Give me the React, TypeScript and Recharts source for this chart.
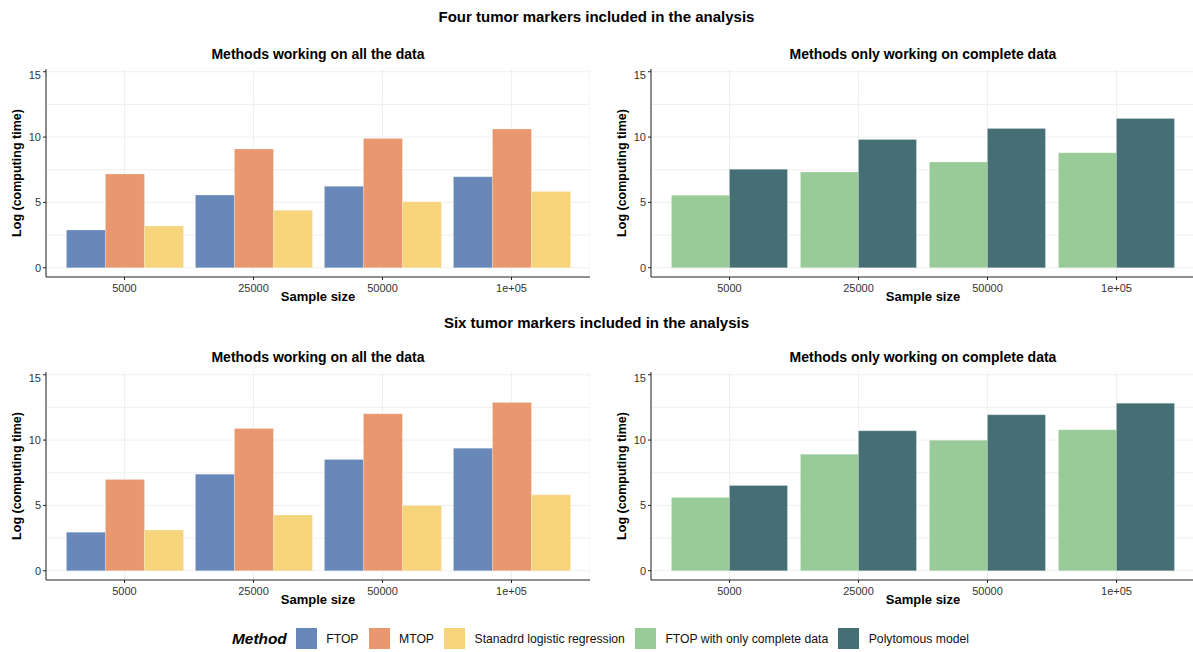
import { BarChart, Bar, XAxis, YAxis, CartesianGrid } from "recharts";

const sampleSizes = ["5000", "25000", "50000", "1e+05"];

// four tumor markers
const fourFtop = [2.88, 5.56, 6.23, 6.96];
const fourMtop = [7.17, 9.08, 9.9, 10.61];
const fourSlr = [3.19, 4.39, 5.05, 5.84];
const fourFtopComplete = [5.54, 7.32, 8.09, 8.8];
const fourPoly = [7.53, 9.82, 10.66, 11.43];

// six tumor markers
const sixFtop = [2.95, 7.39, 8.52, 9.38];
const sixMtop = [6.99, 10.89, 12.01, 12.88];
const sixSlr = [3.11, 4.26, 5.0, 5.81];
const sixFtopComplete = [5.61, 8.92, 9.99, 10.79];
const sixPoly = [6.53, 10.71, 11.94, 12.82];

const yTicks = [0, 5, 10, 15];
const gridValues = [0, 2.5, 5, 7.5, 10, 12.5, 15];

const METHODS = [
  { key: "ftop", name: "FTOP", color: "#6788b8" },
  { key: "mtop", name: "MTOP", color: "#e9976f" },
  { key: "slr", name: "Stanadrd logistic regression", color: "#f6d47b" },
  { key: "ftopc", name: "FTOP with only complete data", color: "#99cb99" },
  { key: "poly", name: "Polytomous model", color: "#466f75" },
];

const FONT = '"Liberation Sans", Arial, Helvetica, sans-serif';

const makeRows = (series: Record<string, number[]>) =>
  sampleSizes.map((s, i) => {
    const row: Record<string, string | number> = { size: s };
    Object.keys(series).forEach((k) => (row[k] = series[k][i]));
    return row;
  });

function Panel({
  rows,
  keys,
  left,
  top,
  title,
}: {
  rows: Record<string, string | number>[];
  keys: string[];
  left: number;
  top: number;
  title: string;
}) {
  const plotLeft = left + 46;
  const plotCenter = plotLeft + 272;
  return (
    <>
      <div
        style={{
          position: "absolute",
          left: plotCenter - 250,
          width: 500,
          top: top - 23,
          textAlign: "center",
          fontWeight: 700,
          fontSize: 14,
        }}
      >
        {title}
      </div>
      <div
        style={{
          position: "absolute",
          left: left + 17 - 100,
          top: top + 104 - 8,
          width: 200,
          height: 16,
          lineHeight: "16px",
          textAlign: "center",
          fontWeight: 700,
          fontSize: 12.5,
          transform: "rotate(-90deg)",
        }}
      >
        Log (computing time)
      </div>
      <div
        style={{
          position: "absolute",
          left: plotCenter - 100,
          width: 200,
          top: top + 220,
          textAlign: "center",
          fontWeight: 700,
          fontSize: 13,
        }}
      >
        Sample size
      </div>
      <div style={{ position: "absolute", left, top }}>
        <BarChart
          width={590}
          height={228}
          data={rows}
          margin={{ top: 0, right: 0, bottom: 0, left: 0 }}
          barCategoryGap="5%"
          barGap={0}
        >
          <CartesianGrid
            stroke="#ebebeb"
            strokeWidth={0.8}
            horizontalValues={gridValues}
          />
          <XAxis
            dataKey="size"
            height={20}
            padding={{ left: 14, right: 14 }}
            axisLine={{ stroke: "#222", strokeWidth: 1 }}
            tickLine={{ stroke: "#222" }}
            tickSize={3}
            tickMargin={4}
            tick={{ fill: "#333", fontSize: 11, fontFamily: FONT }}
          />
          <YAxis
            type="number"
            width={46}
            domain={[-0.71, 15.21]}
            ticks={yTicks}
            allowDataOverflow
            axisLine={{ stroke: "#222", strokeWidth: 1 }}
            tickLine={{ stroke: "#222" }}
            tickSize={3}
            tickMargin={2}
            tick={{ fill: "#333", fontSize: 11, fontFamily: FONT }}
          />
          {keys.map((k) => {
            const m = METHODS.find((x) => x.key === k)!;
            return (
              <Bar
                key={k}
                dataKey={k}
                name={m.name}
                fill={m.color}
                stroke="#ffffff"
                strokeOpacity={0.35}
                strokeWidth={0.6}
                isAnimationActive={false}
              />
            );
          })}
        </BarChart>
      </div>
    </>
  );
}

function LegendRow() {
  return (
    <div
      style={{
        position: "absolute",
        left: 232,
        top: 628,
        height: 21,
        display: "flex",
        alignItems: "center",
      }}
    >
      <span
        style={{
          fontWeight: 700,
          fontStyle: "italic",
          fontSize: 15.4,
          marginRight: 9,
        }}
      >
        Method
      </span>
      {METHODS.map((m) => (
        <span key={m.key} style={{ display: "flex", alignItems: "center" }}>
          <span
            style={{
              width: 21,
              height: 21,
              background: m.color,
              display: "inline-block",
              marginRight: 9.5,
            }}
          />
          <span style={{ fontSize: 12.2, marginRight: 10, color: "#111" }}>
            {m.name}
          </span>
        </span>
      ))}
    </div>
  );
}

export default function App() {
  const fourAll = makeRows({ ftop: fourFtop, mtop: fourMtop, slr: fourSlr });
  const fourComplete = makeRows({ ftopc: fourFtopComplete, poly: fourPoly });
  const sixAll = makeRows({ ftop: sixFtop, mtop: sixMtop, slr: sixSlr });
  const sixComplete = makeRows({ ftopc: sixFtopComplete, poly: sixPoly });

  return (
    <div
      style={{
        position: "absolute",
        left: 0,
        top: 0,
        width: 1193,
        height: 652,
        overflow: "hidden",
        background: "#fff",
        fontFamily: FONT,
        color: "#000",
      }}
    >
      <div
        style={{
          position: "absolute",
          left: 0,
          width: 1193,
          top: 8,
          textAlign: "center",
          fontWeight: 700,
          fontSize: 15,
        }}
      >
        Four tumor markers included in the analysis
      </div>
      <div
        style={{
          position: "absolute",
          left: 0,
          width: 1193,
          top: 314,
          textAlign: "center",
          fontWeight: 700,
          fontSize: 15,
        }}
      >
        Six tumor markers included in the analysis
      </div>

      <Panel
        rows={fourAll}
        keys={["ftop", "mtop", "slr"]}
        left={0}
        top={69}
        title="Methods working on all the data"
      />
      <Panel
        rows={fourComplete}
        keys={["ftopc", "poly"]}
        left={605}
        top={69}
        title="Methods only working on complete data"
      />
      <Panel
        rows={sixAll}
        keys={["ftop", "mtop", "slr"]}
        left={0}
        top={372}
        title="Methods working on all the data"
      />
      <Panel
        rows={sixComplete}
        keys={["ftopc", "poly"]}
        left={605}
        top={372}
        title="Methods only working on complete data"
      />

      <LegendRow />
    </div>
  );
}
